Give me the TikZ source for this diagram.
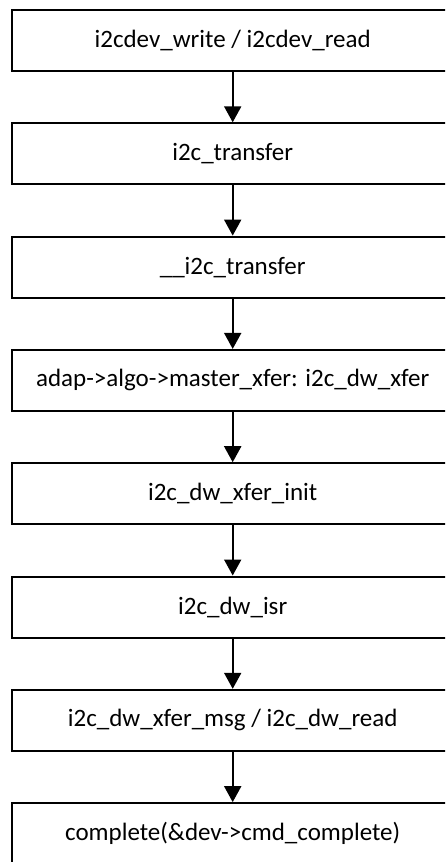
\documentclass[tikz,border=0pt]{standalone}
\usepackage{fontspec}
\setmainfont{Carlito}
\usetikzlibrary{arrows.meta}
\begin{document}
\begin{tikzpicture}[x=1pt,y=-1pt,
  stepbox/.style={draw, line width=2pt, minimum width=441pt, minimum height=61pt, anchor=north, inner sep=0pt, font=\fontsize{25}{30}\selectfont},
  flow/.style={-{Triangle[length=16pt,width=17pt]}, line width=2pt}]
\useasboundingbox (0,0) rectangle (445,862);
\begin{scope}
\clip (0,0) rectangle (445,862);
\node[stepbox] (b1) at (232.7,9) {i2cdev\_write / i2cdev\_read};
\node[stepbox] (b2) at (232.7,122.3) {i2c\_transfer};
\node[stepbox] (b3) at (232.7,235.6) {\_\_i2c\_transfer};
\node[stepbox] (b4) at (232.7,348.9) {adap->algo->master\_xfer: i2c\_dw\_xfer};
\node[stepbox] (b5) at (232.7,462.2) {i2c\_dw\_xfer\_init};
\node[stepbox] (b6) at (232.7,575.5) {i2c\_dw\_isr};
\node[stepbox] (b7) at (232.7,688.8) {i2c\_dw\_xfer\_msg / i2c\_dw\_read};
\node[stepbox] (b8) at (232.7,802.1) {complete(\&dev->cmd\_complete)};
\end{scope}
\foreach \a/\b in {b1/b2,b2/b3,b3/b4,b4/b5,b5/b6,b6/b7,b7/b8}
  \draw[flow] (\a.south) -- (\b.north);
\end{tikzpicture}
\end{document}
